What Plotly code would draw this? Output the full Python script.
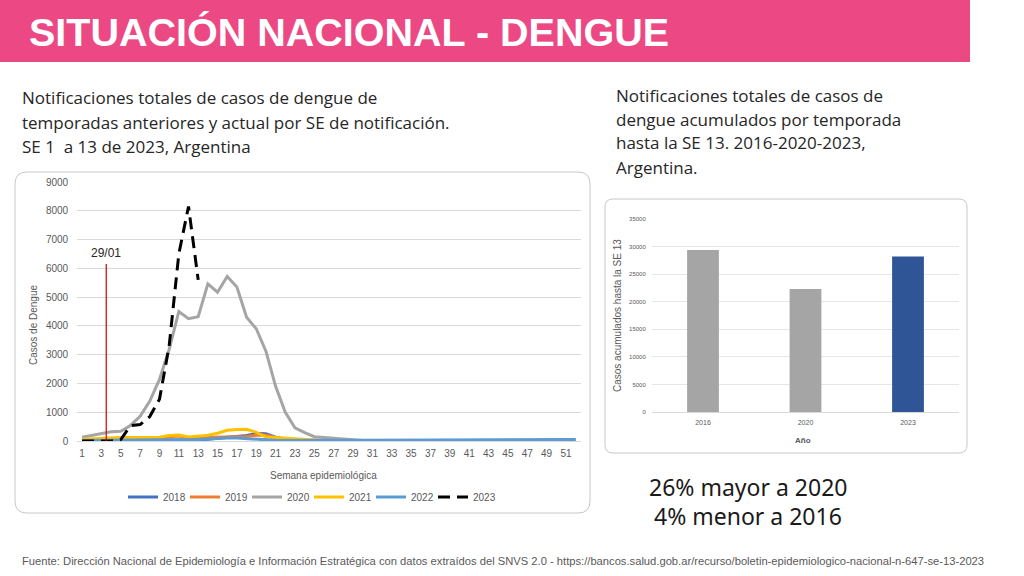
import plotly.graph_objects as go

W, H = 1024, 576
def px(x): return x / W
def py(y): return 1 - y / H

# ---------------- data ----------------
weeks = list(range(1, 53))
s2018 = [30, 30, 30, 30, 30, 30, 30, 30, 30, 35, 40, 40, 45, 60, 90, 140, 170, 190, 260, 250,
         130, 60, 30, 20, 15, 10, 10, 10, 10, 10, 10, 10, 10, 10, 10, 10, 10, 10, 10, 10,
         10, 10, 10, 10, 10, 10, 10, 10, 10, 10, 10, 10]
s2019 = [40, 40, 40, 40, 40, 45, 50, 50, 60, 150, 170, 110, 120, 130, 130, 140, 150, 160, 200, 210,
         120, 60, 40, 30, 20, 15, 15, 15, 15, 15, 15, 15, 15, 15, 15, 15, 15, 15, 15, 15,
         15, 15, 15, 15, 15, 15, 15, 15, 15, 15, 15, 15]
s2020 = [130, 200, 250, 320, 340, 540, 860, 1390, 2140, 3180, 4500, 4250, 4320, 5460, 5170, 5720, 5350, 4300, 3900, 3120,
         1900, 1000, 460, 290, 150, 120, 100, 50, 20, 15, 15, 12, 12, 10, 10, 10, 10, 10, 12, 12,
         15, 15, 15, 18, 20, 25, 30, 35, 40, 45, 50, 40]
s2021 = [60, 80, 100, 110, 120, 120, 130, 130, 130, 190, 210, 140, 160, 200, 270, 370, 400, 410, 300, 140,
         120, 100, 70, 40, 20, 10, 10, 10, 10, 10, 10, 10, 10, 10, 10, 10, 10, 10, 10, 10,
         10, 10, 10, 10, 10, 10, 10, 10, 10, 10, 10, 10]
s2022 = [20, 25, 25, 30, 30, 30, 35, 35, 35, 40, 40, 40, 50, 70, 90, 100, 100, 80, 50, 30,
         25, 20, 20, 20, 15, 15, 15, 15, 15, 15, 15, 15, 15, 15, 15, 15, 15, 15, 20, 20,
         20, 25, 25, 30, 35, 40, 45, 50, 55, 60, 55, 50]
s2023 = [0, 0, 0, 0, 50, 530, 570, 850, 1450, 3300, 6500, 8150, 5600]

series = [("2018", s2018, "#4472C4", "solid"),
          ("2019", s2019, "#ED7D31", "solid"),
          ("2020", s2020, "#A5A5A5", "solid"),
          ("2021", s2021, "#FFC000", "solid"),
          ("2022", s2022, "#5B9BD5", "solid"),
          ("2023", s2023, "#000000", "12px,7px")]

x_ticks = list(range(1, 53, 2))
marker_week = 3.5
marker_top = 6150
marker_label = "29/01"

bar_years = ["2016", "2020", "2023"]
bar_values = [29400, 22300, 28200]
bar_colors = ["#A5A5A5", "#A5A5A5", "#2F5597"]

# ---------------- figure ----------------
fig = go.Figure()
for name, vals, col, dash in series:
    fig.add_trace(go.Scatter(x=weeks[:len(vals)], y=vals, mode="lines", name=name,
                             line=dict(color=col, width=3, dash=dash),
                             xaxis="x", yaxis="y", hoverinfo="skip"))

fig.add_trace(go.Bar(x=bar_years, y=bar_values, marker=dict(color=bar_colors, line=dict(width=0)),
                     xaxis="x2", yaxis="y2", showlegend=False, width=0.31))

chart_font = "Liberation Sans"
tick_col = "#595959"

fig.update_layout(
    width=W, height=H, margin=dict(l=0, r=0, t=0, b=0, autoexpand=False),
    paper_bgcolor="white", plot_bgcolor="rgba(0,0,0,0)",
    font=dict(family=chart_font, color=tick_col),
    xaxis=dict(domain=[px(77.2), px(580.5)], range=[0.5, 52.5], tickvals=x_ticks,
               showgrid=False, zeroline=False, showline=True, linecolor="#D9D9D9",
               tickfont=dict(size=10, color=tick_col), ticks="", ticklabelstandoff=3,
               automargin=False),
    yaxis=dict(domain=[py(441), py(182)], range=[0, 9000], dtick=1000, tickformat="d",
               gridcolor="#D9D9D9", zeroline=False, showline=False,
               tickfont=dict(size=10, color=tick_col), ticks="", ticklabelstandoff=8,
               automargin=False),
    xaxis2=dict(domain=[px(651.75), px(959.25)], anchor="y2", range=[-0.5, 2.5],
                showgrid=False, zeroline=False, showline=True, linecolor="#D9D9D9",
                tickfont=dict(size=7, color=tick_col), ticks="", ticklabelstandoff=4,
                automargin=False),
    yaxis2=dict(domain=[py(412), py(219)], anchor="x2", range=[0, 35000], dtick=5000,
                tickformat="d", gridcolor="#E6E6E6", zeroline=False, showline=False,
                tickfont=dict(size=6, color=tick_col), ticks="", ticklabelstandoff=5,
                automargin=False),
    legend=dict(orientation="h", x=px(123), xanchor="left", y=py(497), yanchor="middle",
                font=dict(size=10, color=tick_col), bgcolor="rgba(0,0,0,0)",
                entrywidth=17, entrywidthmode="pixels", traceorder="normal"),
    showlegend=True,
)

def rrect(x0, y0, x1, y1, r, color):
    X0, X1 = px(x0), px(x1)
    Yt, Yb = py(y0), py(y1)
    rx, ry = r / W, r / H
    path = (f"M {X0+rx},{Yt} L {X1-rx},{Yt} Q {X1},{Yt} {X1},{Yt-ry} "
            f"L {X1},{Yb+ry} Q {X1},{Yb} {X1-rx},{Yb} L {X0+rx},{Yb} "
            f"Q {X0},{Yb} {X0},{Yb+ry} L {X0},{Yt-ry} Q {X0},{Yt} {X0+rx},{Yt} Z")
    return dict(type="path", xref="paper", yref="paper", path=path,
                line=dict(color=color, width=1), fillcolor="white", layer="below")

shapes = [
    dict(type="rect", xref="paper", yref="paper", x0=0, x1=px(970), y0=py(62), y1=py(0),
         fillcolor="#EC4884", line=dict(width=0), layer="below"),
    rrect(15, 172, 590, 513, 12, "#C8C8C8"),
    rrect(605, 199, 967, 453, 8, "#C8C8C8"),
    dict(type="line", xref="x", yref="y", x0=marker_week, x1=marker_week, y0=0, y1=marker_top,
         line=dict(color="#D00000", width=1.2)),
]
fig.update_layout(shapes=shapes)

text_font = "Open Sans"
cond_font = "Liberation Sans"
ann = []
ann.append(dict(text="<b>SITUACIÓN NACIONAL - DENGUE</b>", x=px(27), y=py(32), xanchor="left",
                yanchor="middle", font=dict(family=cond_font, size=39.5, color="white")))
left_lines = ["Notificaciones totales de casos de dengue de",
              "temporadas anteriores y actual por SE de notificación.",
              "SE 1  a 13 de 2023, Argentina"]
for i, t in enumerate(left_lines):
    ann.append(dict(text=t, x=px(20), y=py(98 + 24 * i), xanchor="left", yanchor="middle",
                    font=dict(family=text_font, size=17, color="#262626")))
right_lines = ["Notificaciones totales de casos de",
               "dengue acumulados por temporada",
               "hasta la SE 13. 2016-2020-2023,",
               "Argentina."]
for i, t in enumerate(right_lines):
    ann.append(dict(text=t, x=px(614), y=py(95 + 24 * i), xanchor="left", yanchor="middle",
                    font=dict(family=text_font, size=17, color="#262626")))
ann.append(dict(text="26% mayor a 2020", x=px(748), y=py(487), xanchor="center", yanchor="middle",
                font=dict(family="Noto Sans", size=23, color="#1a1a1a")))
ann.append(dict(text="4% menor a 2016", x=px(748), y=py(516), xanchor="center", yanchor="middle",
                font=dict(family="Noto Sans", size=23, color="#1a1a1a")))
ann.append(dict(text="Fuente: Dirección Nacional de Epidemiología e Información Estratégica con datos extraídos del SNVS 2.0 - https://bancos.salud.gob.ar/recurso/boletin-epidemiologico-nacional-n-647-se-13-2023",
                x=px(20), y=py(561), xanchor="left", yanchor="middle",
                font=dict(family=cond_font, size=11.2, color="#595959")))
# chart texts
ann.append(dict(text="Casos de Dengue", x=px(33), y=py(325), textangle=-90, xanchor="center",
                yanchor="middle", font=dict(family=chart_font, size=10, color=tick_col)))
ann.append(dict(text="Semana epidemiológica", x=px(323), y=py(475), xanchor="center",
                yanchor="middle", font=dict(family=chart_font, size=10, color=tick_col)))
ann.append(dict(text=marker_label, xref="x", yref="y", x=marker_week, y=marker_top, xanchor="center",
                yanchor="bottom", yshift=2, font=dict(family=chart_font, size=12, color="#262626")))
ann.append(dict(text="Casos acumulados hasta la SE 13", x=px(617), y=py(316), textangle=-90,
                xanchor="center", yanchor="middle", font=dict(family=chart_font, size=10, color=tick_col)))
ann.append(dict(text="<b>Año</b>", x=px(803), y=py(440), xanchor="center", yanchor="middle",
                font=dict(family=chart_font, size=8, color=tick_col)))
for a in ann:
    a.setdefault("xref", "paper")
    a.setdefault("yref", "paper")
    a["showarrow"] = False
fig.update_layout(annotations=ann)

fig.write_html("out.html", config={"displayModeBar": False},
               post_script="document.body.style.margin='0';document.body.style.padding='0';")
